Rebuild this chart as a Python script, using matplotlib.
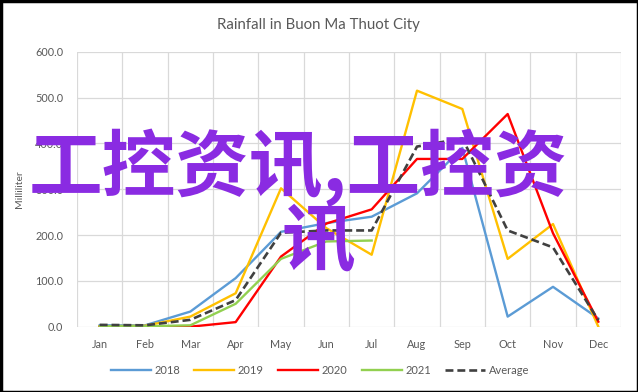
import matplotlib
matplotlib.use("Agg")
import matplotlib.pyplot as plt
from matplotlib.patches import Rectangle

months = ["Jan", "Feb", "Mar", "Apr", "May", "Jun", "Jul", "Aug", "Sep", "Oct", "Nov", "Dec"]
rain_2018 = [3, 3, 33, 106, 207, 226, 240, 291, 390, 22, 87, 18]
rain_2019 = [1, 2, 22, 73, 302, 215, 157, 515, 475, 148, 224, 0]
rain_2020 = [0, 0, 0, 10, 153, 225, 256, 366, 366, 464, 204, 11]
rain_2021 = [1, 1, 3, 50, 148, 186, 188]
rain_avg = [4, 3, 15, 58, 205, 210, 210, 393, 411, 210, 173, 14]
series_names = ["2018", "2019", "2020", "2021", "Average"]
yticks = [0, 100, 200, 300, 400, 500, 600]

W, H = 638, 392
fig = plt.figure(figsize=(W / 100, H / 100), dpi=100)
fig.patch.set_facecolor("white")

l, r, t, b = 77, 621, 51.7, 326.7
ax = fig.add_axes([l / W, 1 - b / H, (r - l) / W, (b - t) / H])

font = "Lato"
grey = "#595959"
x = list(range(len(months)))
ax.plot(x, rain_2018, color="#5B9BD5", lw=1.7, label=series_names[0])
ax.plot(x, rain_2019, color="#FFC000", lw=1.7, label=series_names[1])
ax.plot(x, rain_2020, color="#FF0000", lw=1.7, label=series_names[2])
ax.plot(x[:len(rain_2021)], rain_2021, color="#92D050", lw=1.7, label=series_names[3])
ax.plot(x, rain_avg, color="#404040", lw=1.9, ls=(0, (3, 1.5)), label=series_names[4])

ax.set_xlim(-0.5, 11.5)
ax.set_ylim(0, 600)
ax.set_yticks(yticks)
ax.set_yticklabels([f"{v:.1f}" for v in yticks], fontsize=7.8, color=grey, family=font)
ax.set_xticks(x)
ax.set_xticklabels(months, fontsize=7.8, color=grey, family=font)
ax.grid(False)
for v in yticks:
    ax.axhline(v, color="#D9D9D9", lw=0.9, zorder=0)
for i in range(13):
    ax.axvline(i - 0.5, color="#D9D9D9", lw=0.9, zorder=0)
ax.tick_params(axis="both", which="both", length=0)
ax.tick_params(axis="x", pad=9)
ax.tick_params(axis="y", pad=10)
for s in ax.spines.values():
    s.set_visible(False)

ax.set_ylabel("Milliliter", fontsize=7.5, color=grey, family=font, labelpad=8)

fig.text(318 / W, 1 - 25 / H, "Rainfall in Buon Ma Thuot City", ha="center", va="center",
         fontsize=10.8, color=grey, family=font)

leg = fig.legend(loc="center", bbox_to_anchor=(320 / W, 1 - 370 / H), ncol=5, frameon=False,
                 fontsize=8, handlelength=3.6, columnspacing=1.3, handletextpad=0.3)
for txt in leg.get_texts():
    txt.set_color(grey)
    txt.set_family(font)

purple = "#8A2BE2"
fig.text(298 / W, 1 - 168 / H, "工控资讯,工控资", ha="center", va="center", fontsize=53,
         color=purple, family=["Noto Sans CJK SC", "DejaVu Sans"], fontweight="bold")
fig.text(318 / W, 1 - 243 / H, "讯", ha="center", va="center", fontsize=53,
         color=purple, family=["Noto Sans CJK SC", "DejaVu Sans"], fontweight="bold")

fig.patches.append(Rectangle((0.5 / W, 0.5 / H), 1 - 1.0 / W, 1 - 1.0 / H, transform=fig.transFigure,
                             fill=False, edgecolor="black", lw=2.5))

fig.savefig("out.png", dpi=100)
